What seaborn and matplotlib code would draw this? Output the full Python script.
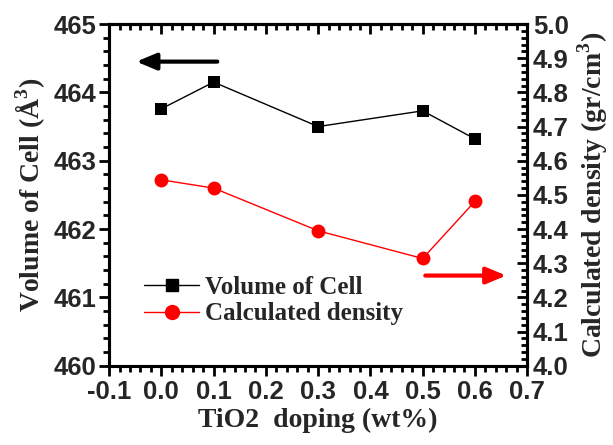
import numpy as np
import pandas as pd
import matplotlib
matplotlib.use('Agg')
import matplotlib.pyplot as plt
from matplotlib.ticker import MultipleLocator, FormatStrFormatter, NullFormatter
from matplotlib.lines import Line2D
import seaborn as sns

# data
doping = [0.0, 0.1, 0.3, 0.5, 0.6]
volume = [463.76, 464.15, 463.50, 463.73, 463.32]
density = [4.544, 4.520, 4.395, 4.314, 4.481]

sns.set_style('ticks')
plt.rcParams['font.family'] = ['Liberation Sans', 'DejaVu Sans']
plt.rcParams['font.weight'] = 'bold'
plt.rcParams['axes.axisbelow'] = False
plt.rcParams['mathtext.fontset'] = 'custom'
plt.rcParams['mathtext.rm'] = 'Liberation Serif:bold'
plt.rcParams['mathtext.bf'] = 'Liberation Serif:bold'

df = pd.DataFrame({'x': doping, 'vol': volume, 'den': density})

fig = plt.figure(figsize=(6.13, 4.45), dpi=100)
ax = fig.add_axes([0.178, 0.178, 0.682, 0.768])
ax2 = ax.twinx()

sns.lineplot(data=df, x='x', y='vol', ax=ax, color='black', marker='s',
             markersize=9, markeredgewidth=0, linewidth=1)
sns.lineplot(data=df, x='x', y='den', ax=ax2, color='red', marker='o',
             markersize=10, markeredgewidth=0, linewidth=1)

ax.set_xlim(-0.1, 0.7)
ax.set_ylim(460, 465)
ax2.set_ylim(4.0, 5.0)

ax.xaxis.set_major_locator(MultipleLocator(0.1))
ax.xaxis.set_minor_locator(MultipleLocator(0.02))
ax.yaxis.set_major_locator(MultipleLocator(1))
ax.yaxis.set_minor_locator(MultipleLocator(0.2))
ax2.yaxis.set_major_locator(MultipleLocator(0.1))
ax2.yaxis.set_minor_locator(MultipleLocator(0.02))
ax.xaxis.set_major_formatter(FormatStrFormatter('%.1f'))
ax2.yaxis.set_major_formatter(FormatStrFormatter('%.1f'))

# top axis: inward ticks, no labels
top = ax2.secondary_xaxis('top')
top.xaxis.set_major_locator(MultipleLocator(0.1))
top.xaxis.set_minor_locator(MultipleLocator(0.02))
top.xaxis.set_major_formatter(NullFormatter())

for a in (ax, ax2):
    for s in a.spines.values():
        s.set_linewidth(2.2)
        s.set_color('black')
top.spines['top'].set_linewidth(2.2)
top.spines['top'].set_color('black')

serif = {'family': 'Liberation Serif', 'weight': 'bold', 'size': 20}
ax.set_xlabel('TiO2  doping (wt%)', fontdict=serif, labelpad=3)
ax.set_ylabel('Volume of Cell (Å$^3$)', fontdict=serif, labelpad=4)
ax2.set_ylabel('Calculated density (gr/cm$^3$)', fontdict=serif, labelpad=5)

# direction arrows
ax.annotate('', xy=(-0.048, 464.45), xytext=(0.107, 464.45),
            arrowprops=dict(arrowstyle='-|>,head_length=1.2,head_width=0.5',
                            color='black', lw=3, shrinkA=0, shrinkB=0))
ax.annotate('', xy=(0.66, 461.32), xytext=(0.505, 461.32),
            arrowprops=dict(arrowstyle='-|>,head_length=1.2,head_width=0.5',
                            color='red', lw=3, shrinkA=0, shrinkB=0))

handles = [Line2D([], [], color='black', marker='s', markersize=9, lw=1),
           Line2D([], [], color='red', marker='o', markersize=10, lw=1)]
ax2.legend(handles, ['Volume of Cell', 'Calculated density'], loc='upper left',
           bbox_to_anchor=(0.03, 0.33), frameon=False, handlelength=2.2,
           handletextpad=0.25, labelspacing=0.15,
           prop={'family': 'Liberation Serif', 'weight': 'bold', 'size': 18})

# tick styling last, so nothing resets it
ax.tick_params(axis='x', which='both', direction='out', width=2, color='black')
ax.tick_params(axis='x', which='major', length=7, labelsize=18.5, pad=3)
ax.tick_params(axis='x', which='minor', length=4)
ax.tick_params(axis='y', which='both', direction='out', width=2, color='black')
ax.tick_params(axis='y', which='major', length=7, labelsize=18.5, pad=2)
ax.tick_params(axis='y', which='minor', length=4)
ax2.tick_params(axis='y', which='both', direction='in', width=2, color='black',
                right=True)
ax2.tick_params(axis='y', which='major', length=7, labelsize=18.5, pad=4)
ax2.tick_params(axis='y', which='minor', length=4)
top.tick_params(axis='x', which='both', direction='in', width=2, color='black',
                top=True)
top.tick_params(axis='x', which='major', length=7)
top.tick_params(axis='x', which='minor', length=4)
ax2.yaxis.set_zorder(5)
top.xaxis.set_zorder(5)

fig.savefig('out.png', dpi=100)
